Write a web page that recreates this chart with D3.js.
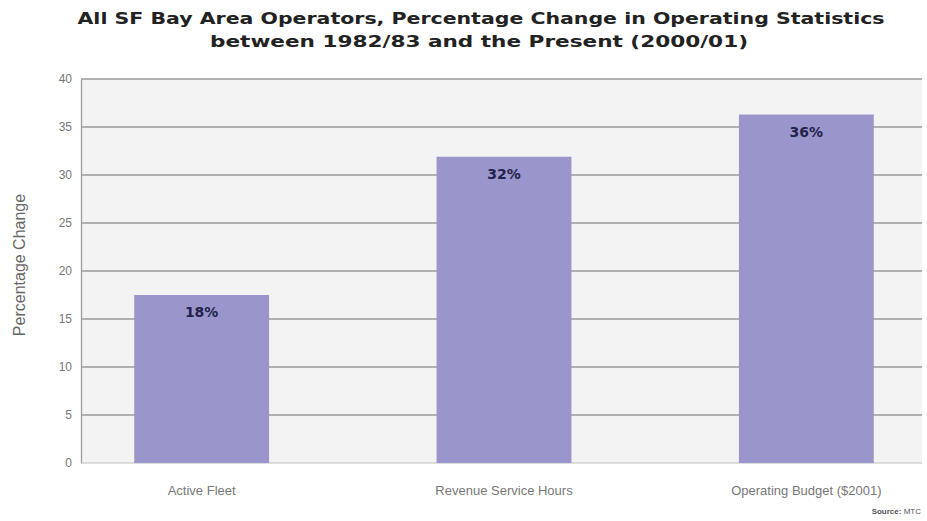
<!DOCTYPE html>
<html>
<head>
<meta charset="utf-8">
<script src="https://cdn.jsdelivr.net/npm/d3@7"></script>
<style>
  html, body { margin: 0; padding: 0; background: #ffffff; }
  svg { display: block; }
</style>
</head>
<body>
<svg id="chart" width="927" height="521"></svg>
<script>
// Operating statistics, percentage change 1982/83 to 2000/01
const categories = ["Active Fleet", "Revenue Service Hours", "Operating Budget ($2001)"];
const values = [17.5, 31.9, 36.3];
const yTicks = [0, 5, 10, 15, 20, 25, 30, 35, 40];
const titleLines = [
  "All SF Bay Area Operators, Percentage Change in Operating Statistics",
  "between 1982/83 and the Present (2000/01)"
];

const svg = d3.select("#chart");
const plotLeft = 81, plotRight = 922, plotTop = 79, plotBottom = 463;

const x = d3.scaleBand()
  .domain(categories)
  .range([plotLeft, 927])
  .paddingInner(0.554)
  .paddingOuter(0.176);

const y = d3.scaleLinear().domain([0, 40]).range([plotBottom, plotTop]);

// plot background
svg.append("rect")
  .attr("x", plotLeft).attr("y", plotTop)
  .attr("width", plotRight - plotLeft).attr("height", plotBottom - plotTop)
  .attr("fill", "#f3f3f3");

// horizontal gridlines
svg.append("g")
  .selectAll("line")
  .data(yTicks.filter(d => d > 0))
  .join("line")
  .attr("x1", plotLeft).attr("x2", plotRight)
  .attr("y1", d => y(d)).attr("y2", d => y(d))
  .attr("stroke", "#9a9a9a")
  .attr("stroke-width", 1.3);

// y axis
const yAxis = d3.axisLeft(y).tickValues(yTicks).tickSize(0).tickPadding(9);
const gy = svg.append("g")
  .attr("transform", `translate(${plotLeft},0)`)
  .call(yAxis);
gy.select(".domain").attr("stroke", "#9a9a9a").attr("stroke-width", 1.3);
gy.selectAll(".tick text")
  .attr("fill", "#777")
  .style("font-family", "Liberation Sans, Arial, sans-serif")
  .style("font-size", "12px");

// baseline
svg.append("line")
  .attr("x1", plotLeft).attr("x2", plotRight)
  .attr("y1", plotBottom).attr("y2", plotBottom)
  .attr("stroke", "#bdbdbd").attr("stroke-width", 1);

// bars
svg.append("g")
  .selectAll("rect")
  .data(values)
  .join("rect")
  .attr("x", (d, i) => x(categories[i]))
  .attr("width", x.bandwidth())
  .attr("y", d => y(d))
  .attr("height", d => y(0) - y(d))
  .attr("fill", "#9a96cc");

// value labels
svg.append("g")
  .selectAll("text")
  .data(values)
  .join("text")
  .attr("x", (d, i) => x(categories[i]) + x.bandwidth() / 2)
  .attr("y", d => y(d) + 22)
  .attr("text-anchor", "middle")
  .attr("fill", "#22224a")
  .style("font-family", "DejaVu Sans, sans-serif")
  .style("font-weight", "bold")
  .style("font-size", "14px")
  .text(d => Math.round(d) + "%");

// category labels
const xAxis = d3.axisBottom(x).tickSize(0).tickPadding(23);
const gx = svg.append("g")
  .attr("transform", `translate(0,${plotBottom})`)
  .call(xAxis);
gx.select(".domain").remove();
gx.selectAll(".tick text")
  .attr("fill", "#777")
  .style("font-family", "Liberation Sans, Arial, sans-serif")
  .style("font-size", "13px");

// y axis title
svg.append("text")
  .attr("transform", "translate(25,265) rotate(-90)")
  .attr("text-anchor", "middle")
  .attr("fill", "#666")
  .style("font-family", "Liberation Sans, Arial, sans-serif")
  .style("font-size", "16px")
  .text("Percentage Change");

// chart title
const titleWidths = [807, 538];
svg.append("g")
  .selectAll("text")
  .data(titleLines)
  .join("text")
  .attr("x", (d, i) => i === 0 ? 481 : 479)
  .attr("y", (d, i) => 24 + i * 23)
  .attr("text-anchor", "middle")
  .attr("fill", "#222")
  .attr("textLength", (d, i) => titleWidths[i])
  .attr("lengthAdjust", "spacingAndGlyphs")
  .style("font-family", "DejaVu Sans, sans-serif")
  .style("font-weight", "bold")
  .style("font-size", "16px")
  .text(d => d);

// source note
svg.append("text")
  .attr("x", 921).attr("y", 514)
  .attr("text-anchor", "end")
  .attr("fill", "#555")
  .style("font-family", "Liberation Sans, Arial, sans-serif")
  .style("font-size", "8px")
  .html('<tspan font-weight="bold">Source:</tspan> MTC');
</script>
</body>
</html>
